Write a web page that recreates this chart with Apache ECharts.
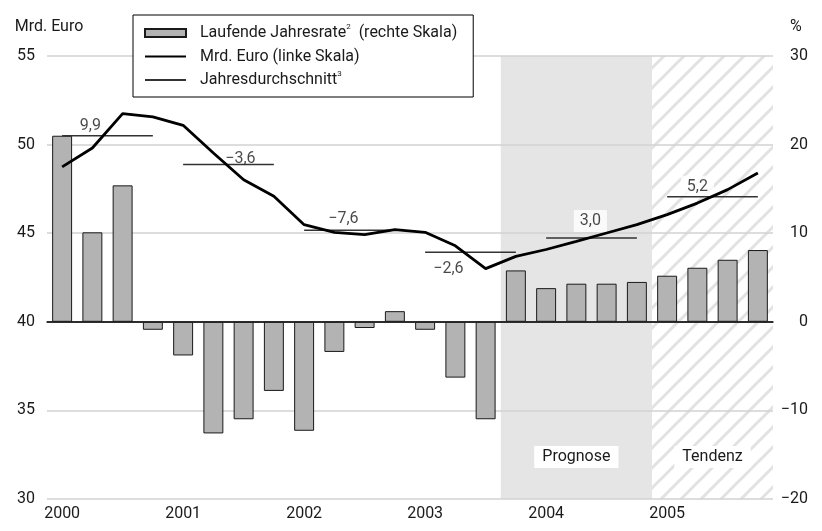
<!DOCTYPE html>
<html>
<head>
<meta charset="utf-8">
<script src="https://cdn.jsdelivr.net/npm/echarts@6/dist/echarts.min.js"></script>
<style>
  html, body { margin: 0; padding: 0; background: #fff; }
  #chart { width: 822px; height: 531px; }
</style>
</head>
<body>
<div id="chart"></div>
<script>
// quarters 2000 - 2005
const categories = [
  "2000 Q1", "2000 Q2", "2000 Q3", "2000 Q4",
  "2001 Q1", "2001 Q2", "2001 Q3", "2001 Q4",
  "2002 Q1", "2002 Q2", "2002 Q3", "2002 Q4",
  "2003 Q1", "2003 Q2", "2003 Q3", "2003 Q4",
  "2004 Q1", "2004 Q2", "2004 Q3", "2004 Q4",
  "2005 Q1", "2005 Q2", "2005 Q3", "2005 Q4",
];
// laufende Jahresrate in % (rechte Skala)
const rate = [
  21.0, 10.1, 15.4, -0.9,
  -3.8, -12.6, -11.0, -7.8,
  -12.3, -3.4, -0.7, 1.2,
  -0.9, -6.3, -11.0, 5.8,
  3.8, 4.3, 4.3, 4.5,
  5.2, 6.1, 7.0, 8.1,
];
// Mrd. Euro (linke Skala)
const level = [
  48.74, 49.81, 51.75, 51.56,
  51.09, 49.53, 48.02, 47.08,
  45.48, 45.05, 44.92, 45.2,
  45.05, 44.29, 43.0, 43.69,
  44.08, 44.54, 45.01, 45.48,
  46.05, 46.7, 47.46, 48.4,
];
// Jahresdurchschnitt
const years = ["2000", "2001", "2002", "2003", "2004", "2005"];
const avgLevel = [50.5, 48.87, 45.16, 43.92, 44.73, 47.06];
const avgRateLabels = ["9,9", "\u22123,6", "\u22127,6", "\u22122,6", "3,0", "5,2"];
// Prognose ab 2003 Q4, Tendenz ab 2005 Q1
const forecastStart = 15;
const trendStart = 20;

const leftTicks = [30, 35, 40, 45, 50, 55];
const rightTicks = [-20, -10, 0, 10, 20, 30];

const FONT = "Roboto";
const TEXT = "#1a1a1a";

// label offsets (px) relative to Q2 of each year
const avgLabelOffsets = [[-2, -10], [27, -6], [9, -11], [-7, 17], [14, -17], [0, -10]];

// hatch pattern for "Tendenz"
const hatch = document.createElement("canvas");
hatch.width = 20;
hatch.height = 20;
const hctx = hatch.getContext("2d");
hctx.fillStyle = "#fff";
hctx.fillRect(0, 0, 20, 20);
hctx.strokeStyle = "#e2e2e2";
hctx.lineWidth = 3;
hctx.beginPath();
hctx.moveTo(-2, 22); hctx.lineTo(22, -2);
hctx.moveTo(-12, 12); hctx.lineTo(12, -12);
hctx.moveTo(8, 32); hctx.lineTo(32, 8);
hctx.stroke();

const legendText = {
  rate: "Laufende Jahresrate{sup|2}  (rechte Skala)",
  level: "Mrd. Euro (linke Skala)",
  avg: "Jahresdurchschnitt{sup|3}",
};

const minus = (v) => String(v).replace("-", "\u2212");

const avgSeries = years.map((y, i) => ({
  name: "avg",
  type: "line",
  yAxisIndex: 0,
  symbol: "none",
  silent: true,
  z: 6,
  lineStyle: { color: "#333", width: 1.5 },
  itemStyle: { color: "transparent", borderColor: "transparent" },
  data: categories.map((c) => (c.slice(0, 4) === y ? avgLevel[i] : null)),
}));

const chart = echarts.init(document.getElementById("chart"));
const option = {
  animation: false,
  textStyle: { fontFamily: FONT },
  grid: { left: 47, right: 49, top: 56, bottom: 32 },
  legend: {
    data: [{ name: "rate", icon: "rect" }, { name: "level" }, { name: "avg" }],
    orient: "vertical",
    left: 133,
    top: 15,
    padding: [8, 16, 7, 11],
    itemGap: 3.5,
    itemWidth: 41,
    itemHeight: 8,
    borderColor: "#000",
    borderWidth: 1,
    backgroundColor: "#fff",
    selectedMode: false,
    formatter: (name) => legendText[name],
    textStyle: {
      fontFamily: FONT,
      fontSize: 16,
      color: TEXT,
      lineHeight: 20,
      padding: [0, 0, 0, 9],
      rich: {
        sup: { fontSize: 8, lineHeight: 20, verticalAlign: "top", fontFamily: FONT, color: TEXT },
      },
    },
  },
  xAxis: [
    {
      type: "category",
      data: categories,
      boundaryGap: true,
      axisLine: { lineStyle: { color: "#222", width: 1.5 } },
      axisTick: { interval: 0, length: 6, lineStyle: { color: "#222", width: 1.5 } },
      axisLabel: {
        interval: 3,
        margin: 7,
        fontSize: 16,
        color: TEXT,
        fontFamily: FONT,
        formatter: (v) => v.slice(0, 4),
      },
      splitLine: { show: false },
    },
    { type: "value", min: 0, max: categories.length, show: false },
  ],
  yAxis: [
    {
      type: "value",
      min: leftTicks[0],
      max: leftTicks[leftTicks.length - 1],
      interval: 5,
      name: "Mrd. Euro",
      nameLocation: "end",
      nameGap: 21,
      nameTextStyle: { fontSize: 16, color: TEXT, fontFamily: FONT, padding: [0, 0, 0, 4] },
      axisLine: { show: false },
      axisTick: { show: false },
      axisLabel: { fontSize: 16, color: TEXT, fontFamily: FONT, margin: 12 },
      splitLine: { lineStyle: { color: "#d2d2d2", width: 1.5 } },
    },
    {
      type: "value",
      min: rightTicks[0],
      max: rightTicks[rightTicks.length - 1],
      interval: 10,
      name: "%",
      nameLocation: "end",
      nameGap: 21,
      nameTextStyle: { fontSize: 16, color: TEXT, fontFamily: FONT, align: "left", padding: [0, 0, 0, 17] },
      axisLine: { show: false },
      axisTick: { show: false },
      axisLabel: {
        fontSize: 16,
        color: TEXT,
        fontFamily: FONT,
        align: "right",
        margin: 35,
        formatter: minus,
      },
      splitLine: { show: false },
    },
  ],
  series: [
    {
      name: "regions",
      type: "line",
      xAxisIndex: 1,
      yAxisIndex: 0,
      data: [],
      silent: true,
      markArea: {
        silent: true,
        z: -1,
        label: {
          position: "insideBottom",
          distance: 31,
          fontSize: 16,
          color: TEXT,
          fontFamily: FONT,
          backgroundColor: "#fff",
          padding: [3, 8],
        },
        data: [
          [
            { name: "Prognose", xAxis: forecastStart, itemStyle: { color: "#e5e5e5" } },
            { xAxis: trendStart },
          ],
          [
            { name: "Tendenz", xAxis: trendStart, itemStyle: { color: { image: hatch, repeat: "repeat" } } },
            { xAxis: categories.length },
          ],
        ],
      },
    },
    {
      name: "rate",
      type: "bar",
      yAxisIndex: 1,
      barWidth: "66%",
      itemStyle: { color: "#b3b3b3", borderColor: "#1a1a1a", borderWidth: 1 },
      data: rate,
      markLine: {
        silent: true,
        symbol: "none",
        label: { show: false },
        lineStyle: { color: "#222", width: 1.5, type: "solid" },
        data: [{ yAxis: 0 }],
      },
    },
    {
      name: "level",
      type: "line",
      yAxisIndex: 0,
      symbol: "none",
      z: 7,
      lineStyle: { color: "#000", width: 2.8 },
      itemStyle: { color: "transparent", borderColor: "transparent" },
      data: level,
    },
    ...avgSeries,
    {
      name: "avgLabels",
      type: "scatter",
      yAxisIndex: 0,
      symbolSize: 1,
      z: 5,
      itemStyle: { color: "transparent" },
      silent: true,
      data: years.map((y, i) => ({
        value: [i * 4 + 1, avgLevel[i]],
        label: {
          show: true,
          position: "inside",
          formatter: avgRateLabels[i],
          offset: avgLabelOffsets[i],
          fontSize: 16,
          color: TEXT,
          fontFamily: FONT,
          backgroundColor: i >= 4 ? "#fff" : "transparent",
          padding: i >= 4 ? [3, 6] : 0,
        },
      })),
    },
  ],
};
chart.setOption(option);
</script>
</body>
</html>
